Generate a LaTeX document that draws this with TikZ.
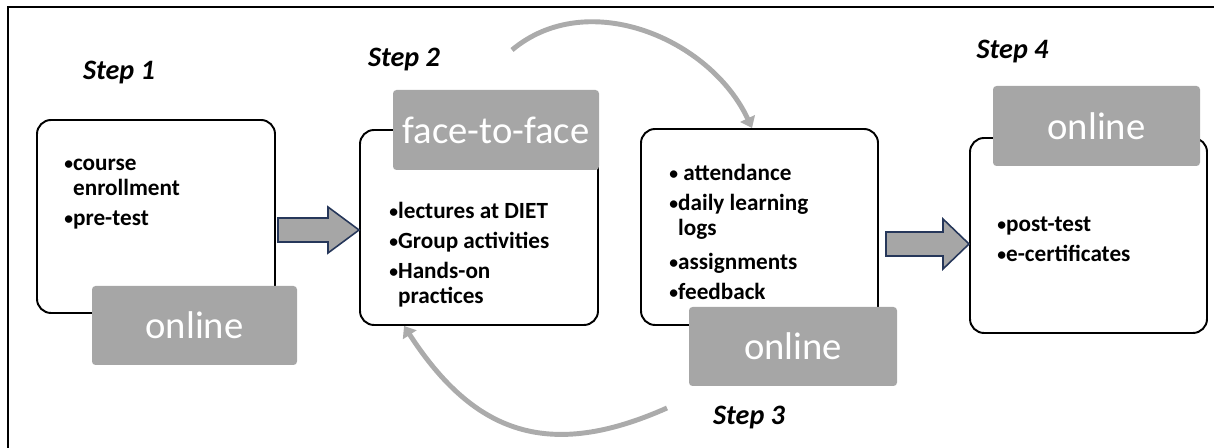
\documentclass[tikz,border=0pt]{standalone}
\usepackage{fontspec}
\setmainfont{Carlito}
\usetikzlibrary{arrows.meta,calc}

\definecolor{tabgray}{HTML}{A6A6A6}
\definecolor{cyclegray}{HTML}{ABABAB}
\definecolor{arrowblue}{HTML}{26375A}

% small bullet for the box lists
\newcommand{\bul}{\raisebox{0.7pt}{\fontsize{10}{10}\selectfont•}}

\begin{document}
\begin{tikzpicture}[
  stage/.style={draw=black, line width=1.1pt, rounded corners=8pt, inner sep=0pt},
  tab/.style={fill=tabgray, rounded corners=2pt, text=white, inner sep=0pt,
    font=\fontsize{22}{24}\selectfont},
  steplabel/.style={font=\fontsize{16}{18}\selectfont\bfseries\itshape},
  items/.style={anchor=north west, inner sep=0pt, font=\fontsize{13.2}{14.2}\selectfont\bfseries},
  blockarrow/.style={fill=tabgray, draw=arrowblue, line width=0.9pt, line join=miter},
  cyclearrow/.style={draw=cyclegray, line width=2.8pt, -{Triangle[width=9pt,length=6pt]}}
]
\useasboundingbox (0,0) rectangle (24.28,8.96);

% frame
\draw[line width=0.7pt] (0.16,0) -- (0.16,8.82) -- (24.28,8.82);

% the four stage boxes
\node[stage, minimum width=4.76cm, minimum height=3.86cm] (box1) at (3.12,4.63) {};
\node[stage, minimum width=4.76cm, minimum height=3.90cm] (box2) at (9.58,4.41) {};
\node[stage, minimum width=4.74cm, minimum height=3.92cm] (box3) at (15.19,4.42) {};
\node[stage, minimum width=4.74cm, minimum height=3.90cm] (box4) at (21.77,4.25) {};

% mode tabs on top of the boxes
\node[tab, minimum width=4.10cm, minimum height=1.58cm] (tab1) at (3.89,2.45) {online};
\node[tab, minimum width=4.12cm, minimum height=1.60cm] (tab2) at (9.92,6.36) {face-to-face};
\node[tab, minimum width=4.16cm, minimum height=1.58cm] (tab3) at (15.86,2.03) {online};
\node[tab, minimum width=4.14cm, minimum height=1.60cm] (tab4) at (21.93,6.44) {online};

% step labels
\node[steplabel] (step1) at (2.38,7.50) {Step 1};
\node[steplabel] (step2) at (8.08,7.76) {Step 2};
\node[steplabel] (step3) at (14.98,0.60) {Step 3};
\node[steplabel] (step4) at (20.25,7.92) {Step 4};

% box contents
\node[items] (list1) at ($(box1.north west)+(0.56,-0.67)$) {%
  \begin{tabular}{@{}l@{}l@{}}
  \bul&course\\
      &enrollment\\[3pt]
  \bul&pre-test
  \end{tabular}};
\node[items] (list2) at ($(box2.north west)+(0.60,-1.43)$) {%
  \begin{tabular}{@{}l@{}l@{}}
  \bul&lectures at DIET\\[3pt]
  \bul&Group activities\\[3pt]
  \bul&Hands-on\\
      &practices
  \end{tabular}};
\node[items] (list3) at ($(box3.north west)+(0.58,-0.69)$) {%
  \begin{tabular}{@{}l@{}l@{}}
  \bul&\ attendance\\[3pt]
  \bul&daily learning\\
      &logs\\[5pt]
  \bul&assignments\\[3pt]
  \bul&feedback
  \end{tabular}};
\node[items] (list4) at ($(box4.north west)+(0.56,-1.53)$) {%
  \begin{tabular}{@{}l@{}l@{}}
  \bul&post-test\\[3pt]
  \bul&e-certificates
  \end{tabular}};

% block arrows between the steps
\draw[blockarrow] (5.56,4.12) -- (6.56,4.12) -- (6.56,3.90) -- (box2.west |- 0,4.36)
  -- (6.56,4.82) -- (6.56,4.60) -- (5.56,4.60) -- cycle;
\draw[blockarrow] (17.72,3.84) -- (18.86,3.84) -- (18.86,3.58) -- (box4.west |- 0,4.08)
  -- (18.86,4.58) -- (18.86,4.32) -- (17.72,4.32) -- cycle;

% loop between step 2 and step 3
\coordinate (loopA) at (10.24,7.96);
\coordinate (loopB) at (13.34,0.80);
\draw[cyclearrow] (loopA) to[out=40, in=115] ($(box3.north)+(-0.15,0)$);
\draw[cyclearrow] (loopB) to[out=204, in=-57, looseness=1.2] ($(box2.south west)+(0.90,0)$);

\end{tikzpicture}
\end{document}
